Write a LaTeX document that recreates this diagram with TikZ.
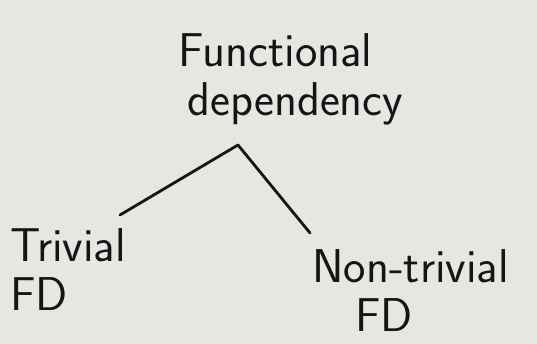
\documentclass[tikz,border=0pt]{standalone}
\usepackage{xcolor}
\usepackage{tikz}
\usetikzlibrary{positioning}

\definecolor{paper}{HTML}{E6E7E2}
\definecolor{ink}{HTML}{151515}

\begin{document}
\begin{tikzpicture}[
  every node/.style={text=ink, inner sep=0pt, font=\sffamily\fontsize{27}{28}\selectfont},
  branch/.style={draw=ink, line width=1.6pt, line cap=round}
]
  \fill[paper] (0,0) rectangle (10.74,6.88);
  \useasboundingbox (0,0) rectangle (10.74,6.88);
  \node[align=left, anchor=north west] (fd) at (3.56,6.22) {Functional\\\hspace*{0.18cm}dependency};
  \node[align=left, anchor=north west] (triv) at (0.2,2.32) {Trivial\\FD};
  \node[align=left, anchor=north west] (nontriv) at (6.24,1.9) {Non-trivial\\\hspace*{0.86cm}FD};
  \coordinate (apex) at (4.76,3.98);
  \coordinate (lend) at (2.4,2.58);
  \coordinate (rend) at (6.2,2.22);
  \draw[branch] (apex) -- (lend);
  \draw[branch] (apex) -- (rend);
\end{tikzpicture}
\end{document}
